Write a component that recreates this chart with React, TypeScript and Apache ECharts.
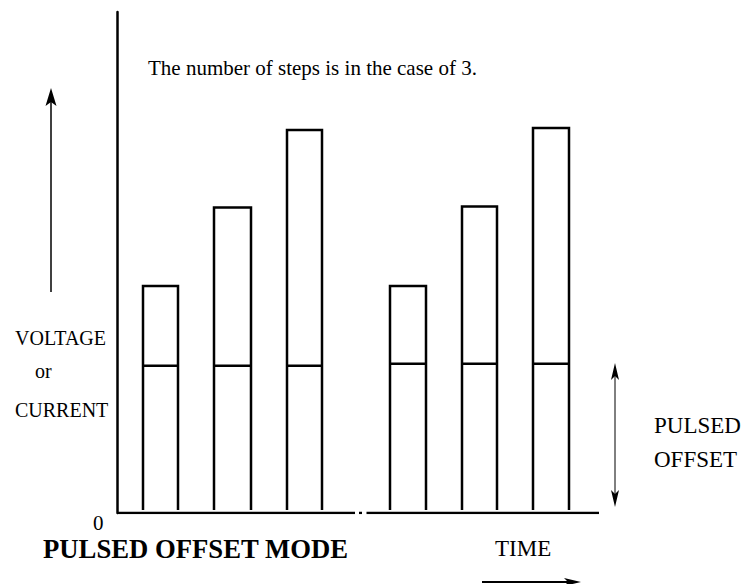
import React, { useEffect, useRef } from "react";
import * as echarts from "echarts";

// Pulse timing (arbitrary time units) and levels (arbitrary voltage/current units)
const pulseStart = [2.6, 9.7, 17.0, 27.3, 34.5, 41.6];
const pulseEnd = [6.1, 13.4, 20.5, 30.9, 38.0, 45.2];
const pulseTop = [2.31, 3.11, 3.9, 2.31, 3.12, 3.92];
const pulseOffset = [1.5, 1.5, 1.5, 1.52, 1.52, 1.52];

// Time axis baseline segments (broken axis)
const baseSegA = [[0, 0], [23.8, 0]];
const baseSegDot = [[24.2, 0], [24.5, 0]];
const baseSegB = [[24.95, 0], [48.2, 0]];

const X_MAX = 48.2;
const Y_MAX = 5.1;

const noteText = "The number of steps is in the case of 3.";
const yLabelLines = ["VOLTAGE", "or", "CURRENT"];
const zeroLabel = "0";
const titleText = "PULSED OFFSET MODE";
const timeLabel = "TIME";
const offsetLabelLines = ["PULSED", "OFFSET"];

const FONT = "'Liberation Serif', 'Times New Roman', serif";

export default function App() {
  const ref = useRef<HTMLDivElement>(null);

  useEffect(() => {
    if (!ref.current) return;
    const chart = echarts.init(ref.current, null, { renderer: "svg" });

    const pulseData = pulseStart.map((s, i) => [s, pulseEnd[i], pulseTop[i], pulseOffset[i]]);

    const lineSeries = (data: number[][]) => ({
      type: "line",
      data,
      showSymbol: false,
      silent: true,
      lineStyle: { color: "#000", width: 2.5 },
    });

    const txt = (text: string, x: number, y: number, size: number, bold = false) => ({
      type: "text",
      x,
      y,
      silent: true,
      style: {
        text,
        fill: "#000",
        font: `${bold ? "bold " : ""}${size}px ${FONT}`,
        align: "left",
        verticalAlign: "middle",
      },
    });

    const option: any = {
      animation: false,
      backgroundColor: "#fff",
      grid: { left: 117, top: 12, right: 145, bottom: 71 },
      xAxis: {
        type: "value",
        min: 0,
        max: X_MAX,
        show: false,
      },
      yAxis: {
        type: "value",
        min: 0,
        max: Y_MAX,
        axisLine: { show: true, lineStyle: { color: "#000", width: 2.5 } },
        axisTick: { show: false },
        axisLabel: { show: false },
        splitLine: { show: false },
      },
      series: [
        lineSeries(baseSegA),
        lineSeries(baseSegDot),
        lineSeries(baseSegB),
        {
          type: "custom",
          silent: true,
          data: pulseData,
          renderItem: (params: any, api: any) => {
            const s = api.value(0);
            const e = api.value(1);
            const top = api.value(2);
            const off = api.value(3);
            const pS0 = api.coord([s, 0]);
            const pE0 = api.coord([e, 0]);
            const pST = api.coord([s, top]);
            const pET = api.coord([e, top]);
            const pSO = api.coord([s, off]);
            const pEO = api.coord([e, off]);
            const gap = 3;
            const st = { stroke: "#000", lineWidth: 2.5, fill: null };
            return {
              type: "group",
              children: [
                {
                  type: "polyline",
                  shape: {
                    points: [
                      [pS0[0], pS0[1] - gap],
                      pST,
                      pET,
                      [pE0[0], pE0[1] - gap],
                    ],
                  },
                  style: st,
                },
                {
                  type: "line",
                  shape: { x1: pSO[0], y1: pSO[1], x2: pEO[0], y2: pEO[1] },
                  style: st,
                },
              ],
            };
          },
        },
      ],
      graphic: [
        txt(noteText, 148, 68, 21),
        txt(yLabelLines[0], 15, 338, 20),
        txt(yLabelLines[1], 35, 371, 20),
        txt(yLabelLines[2], 15, 410, 20),
        txt(zeroLabel, 93, 523, 21),
        txt(titleText, 43, 549, 26.7, true),
        txt(timeLabel, 495, 548, 23),
        txt(offsetLabelLines[0], 654, 425, 23),
        txt(offsetLabelLines[1], 654, 459, 23),
        // left up arrow
        { type: "line", silent: true, shape: { x1: 51, y1: 292, x2: 51, y2: 100 }, style: { stroke: "#000", lineWidth: 1.5 } },
        { type: "polygon", silent: true, shape: { points: [[51, 88], [45.5, 106], [51, 102], [56.5, 106]] }, style: { fill: "#000" } },
        // pulsed offset double arrow
        { type: "line", silent: true, shape: { x1: 615, y1: 372, x2: 615, y2: 498 }, style: { stroke: "#000", lineWidth: 1 } },
        { type: "polygon", silent: true, shape: { points: [[615, 363], [611, 380], [615, 376], [619, 380]] }, style: { fill: "#000" } },
        { type: "polygon", silent: true, shape: { points: [[615, 507], [611, 490], [615, 494], [619, 490]] }, style: { fill: "#000" } },
        // time arrow
        { type: "line", silent: true, shape: { x1: 482, y1: 582, x2: 572, y2: 582 }, style: { stroke: "#000", lineWidth: 2 } },
        { type: "polygon", silent: true, shape: { points: [[581, 582], [564, 578], [568, 582], [564, 586]] }, style: { fill: "#000" } },
      ],
    };

    chart.setOption(option);
    return () => chart.dispose();
  }, []);

  return (
    <div
      ref={ref}
      style={{ position: "fixed", left: 0, top: 0, width: 744, height: 584, background: "#fff" }}
    />
  );
}
